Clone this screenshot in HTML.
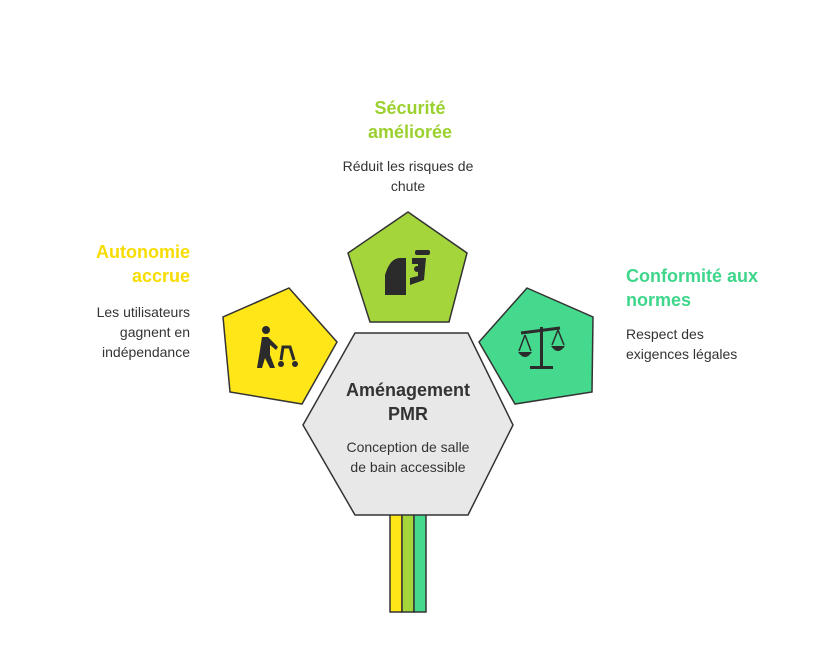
<!DOCTYPE html>
<html><head><meta charset="utf-8"><style>
body{margin:0;background:#fff;width:816px;height:672px;overflow:hidden;font-family:"Liberation Sans",sans-serif}
.t{position:absolute;font-weight:bold;font-size:18px;line-height:24px}
.d{position:absolute;font-size:14px;line-height:20px;color:#333}
</style></head><body>
<svg width="816" height="672" style="position:absolute;left:0;top:0">
<rect x="390" y="512" width="12" height="100" fill="#FFE619" stroke="#333" stroke-width="1.5"/>
<rect x="402" y="512" width="12" height="100" fill="#A4D63C" stroke="#333" stroke-width="1.5"/>
<rect x="414" y="512" width="12" height="100" fill="#44D98D" stroke="#333" stroke-width="1.5"/>
<polygon points="408,212 467,253 449,322 370,322 348,253" fill="#A4D63C" stroke="#333" stroke-width="1.5"/>
<polygon points="289,288 337,342 302,404 230,392 223,317" fill="#FFE619" stroke="#333" stroke-width="1.5"/>
<polygon points="527,288 593,317 592,392 515,404 479,342" fill="#44D98D" stroke="#333" stroke-width="1.5"/>
<polygon points="355,333 468,333 513,425 468,515 355,515 303,425" fill="#E8E8E8" stroke="#333" stroke-width="1.5"/>
<!-- icons -->
<g fill="#2b2b2b">
<path d="M385,295 L385,275 Q390,258 400,258 L406,258 L406,295 Z"/>
<rect x="415" y="250" width="15" height="5" rx="2"/>
<path d="M412,258 L426,258 L424,280 L410,285 L410,278 L418,276 L418,264 L412,264Z"/>
<circle cx="417" cy="269" r="3"/>
<circle cx="266" cy="330" r="4"/>
<path d="M262,337 L268,337 L278,347 L276,350 L270,345 L270,355 L275,368 L270,368 L265,358 L262,368 L257,368 L260,350Z"/>
<path d="M281,360 L283,347 L290,347 L294,360" fill="none" stroke="#2b2b2b" stroke-width="3"/>
<circle cx="281" cy="364" r="3"/><circle cx="295" cy="364" r="3"/>
<rect x="540" y="327" width="3" height="40"/><rect x="530" y="366" width="23" height="3"/>
<path d="M521,333 L560,328" stroke="#2b2b2b" stroke-width="3"/>
<path d="M518,352 Q525,362 532,352Z"/><path d="M551,346 Q558,356 565,346Z"/>
<path d="M525,335 L519,351 M525,335 L531,351 M558,330 L552,345 M558,330 L564,345" stroke="#2b2b2b" stroke-width="1.5" fill="none"/>
</g>
</svg>
<div class="t" style="left:340px;top:96px;width:140px;text-align:center;color:#9BD12E">Sécurité<br>améliorée</div>
<div class="d" style="left:320px;top:156px;width:176px;text-align:center">Réduit les risques de<br>chute</div>
<div class="t" style="left:40px;top:240px;width:150px;text-align:right;color:#F7DC00">Autonomie<br>accrue</div>
<div class="d" style="left:40px;top:302px;width:150px;text-align:right">Les utilisateurs<br>gagnent en<br>indépendance</div>
<div class="t" style="left:626px;top:264px;width:180px;color:#3ED68B">Conformité aux<br>normes</div>
<div class="d" style="left:626px;top:324px;width:180px">Respect des<br>exigences légales</div>
<div class="t" style="left:320px;top:378px;width:176px;text-align:center;color:#333">Aménagement<br>PMR</div>
<div class="d" style="left:320px;top:437px;width:176px;text-align:center">Conception de salle<br>de bain accessible</div>
</body></html>
